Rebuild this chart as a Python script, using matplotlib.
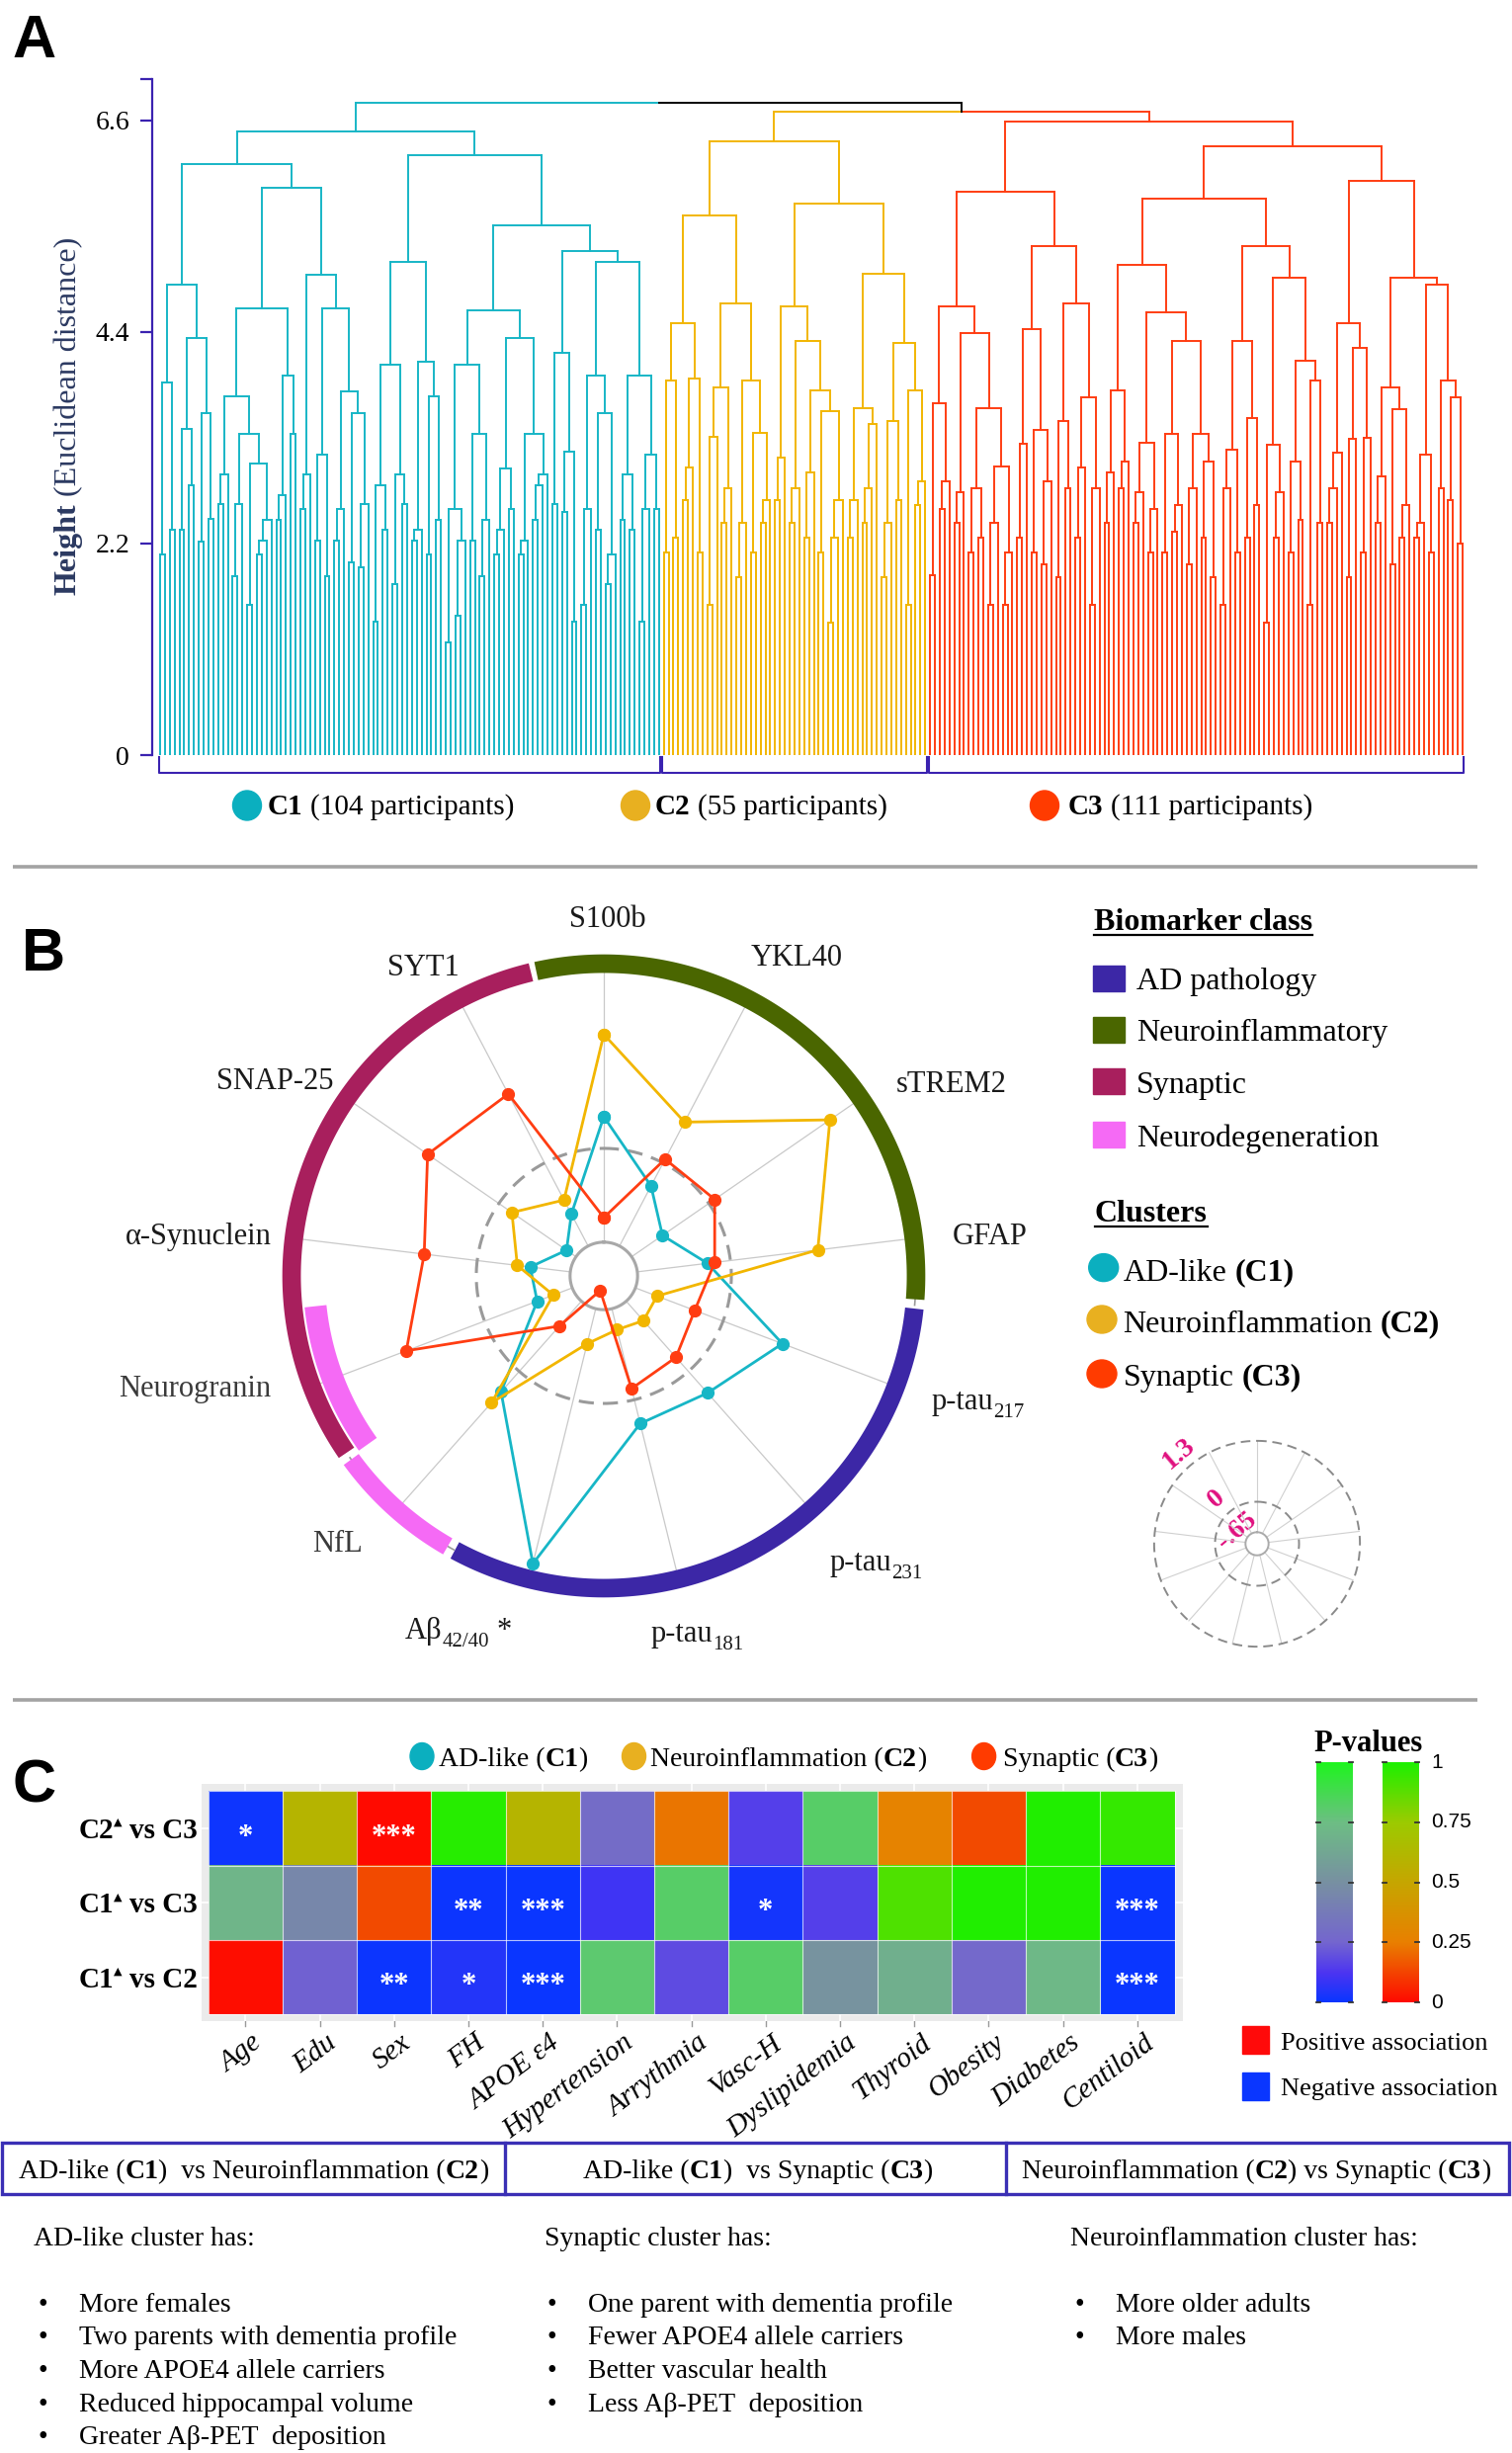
import math
import numpy as np
import matplotlib
matplotlib.use('Agg')
import matplotlib.pyplot as plt
from matplotlib.collections import LineCollection
from matplotlib.colors import LinearSegmentedColormap
from matplotlib.patches import Rectangle, Ellipse

# ======================= DATA =======================
# ---- Panel A: dendrogram. node = (height, left, right); list = chain of merge heights
C1_A1 = (4.89, (3.87, [2.09], [2.34]),
         (4.34, (3.39, [2.34], [2.81]), (3.56, [2.22], [2.46])))
C1_A2 = (5.90,
         (4.65, (3.73, [2.61, 2.92], (3.34, [1.86, 2.61], (3.03, [1.56], [2.09, 2.23, 2.45]))),
          (3.95, [2.45, 2.70], [3.34])),
         (4.99, [2.56, 2.92],
          (4.65, (3.12, [2.23], [1.86]), (3.78, [2.23, 2.56], (3.56, [2.00], [1.95, 2.61])))))
C1_B1 = (5.13, (4.06, (2.81, [1.39], [2.34]), (2.92, [1.78], [2.61])),
         (4.09, [2.23, 2.34], (3.73, [2.09], [2.45])))
C1_B2 = (5.51,
         (4.62, (4.06, (2.56, [1.17], [1.45, 2.23]), (3.34, [2.23], [1.86, 2.45])),
          (4.34, (2.98, [2.09, 2.34], [2.56]), (3.34, [2.09, 2.23], [2.45, 2.81, 2.92]))),
         (5.24, (4.18, [2.61], (3.16, [2.53], [1.39])),
          (5.13, (3.95, [1.56, 2.56], (3.56, [2.34], [1.78, 2.09])),
           (3.95, (2.92, [2.45], [2.34]), (3.12, [1.39, 2.56], [2.56])))))
C1_TREE = (6.49, (6.15, C1_A1, C1_A2), (6.24, C1_B1, C1_B2))

C2_A = (5.61, (4.49, (3.90, [2.11], [2.26]), (3.92, [2.65, 2.99], [2.11])),
        (4.70, (3.82, [1.56, 3.31], [2.42, 2.78]), (3.90, [1.85, 2.42], (3.35, [2.11], [2.42, 2.65]))))
C2_B = (5.73,
        (4.67, [2.65, 3.09], (4.31, [2.42, 2.78], (3.79, [2.26, 2.94], (3.58, [2.11], [1.38, 2.26, 2.65])))),
        (5.01, (3.61, [2.26, 2.65], [2.42, 2.78, 3.44]),
         (4.29, (3.47, [1.85, 2.42], [2.65]), (3.79, [1.56], [2.60, 2.85]))))
C2_TREE = (6.38, C2_A, C2_B)

C3_A = (5.86,
        (4.67, (3.66, [1.87], [2.56, 2.85]),
         (4.39, [2.42, 2.73], (3.61, (2.77, [2.11], [2.26]), (3.00, [1.56, 2.42], [1.56, 2.11])))),
        (5.29, (4.43, [2.26, 3.24], (3.38, [2.11], [1.98, 2.85])),
         (4.70, (3.47, [1.85], [2.78]), (3.72, [2.26, 2.99], [1.56, 2.78]))))
C3_B1 = (5.79,
         (5.10, (3.79, [2.42, 2.94], [2.78, 3.05]),
          (4.60, (3.25, [2.42, 2.73], [2.11, 2.56]),
           (4.31, (3.34, [2.11], [2.32, 2.60]), (3.34, [1.98, 2.78], (3.05, [2.26], [1.85]))))),
         (5.29, (4.31, (3.18, [1.56, 2.78], [2.11]), (3.50, [2.26], [2.60])),
          (4.96, (3.23, [1.38], [2.26, 2.73]), (4.10, (3.05, [2.11], [2.45]), (3.90, [1.56], [2.42])))))
C3_B2 = (5.97, (4.49, [2.42, 2.78, 3.15], (4.23, [1.85, 3.29], [2.11, 3.30])),
         (4.96, (3.82, [2.42, 2.90], (3.60, [1.98], [2.26, 2.60])),
          (4.89, (3.12, [2.26, 2.42], [2.11]), (3.90, [2.78], (3.72, [2.65], [2.20])))))
C3_TREE = (6.59, C3_A, (6.33, C3_B1, C3_B2))

C2C3_HEIGHT = 6.69
ROOT_HEIGHT = 6.78
CLUSTER_LABELS = ['C1', 'C2', 'C3']
CLUSTER_N = [104, 55, 111]
Y_TICKS = [0, 2.2, 4.4, 6.6]
Y_TICKLABELS = ['0', '2.2', '4.4', '6.6']

# ---- Panel B: radar
RADAR_AXES = ['S100b', 'YKL40', 'sTREM2', 'GFAP', 'p-tau217', 'p-tau231', 'p-tau181',
              'Aβ42/40', 'NfL', 'Neurogranin', 'α-Synuclein', 'SNAP-25', 'SYT1']
RADAR_C1 = [0.22, -0.18, -0.39, -0.16, 0.44, 0.20, 0.17, 1.17, 0.19, -0.39, -0.37, -0.57, -0.40]
RADAR_C2 = [0.79, 0.32, 1.02, 0.61, -0.49, -0.47, -0.50, -0.40, 0.29, -0.51, -0.28, -0.11, -0.29]
RADAR_C3 = [-0.48, 0.03, 0.05, -0.11, -0.21, -0.13, -0.08, -0.78, -0.42, 0.58, 0.37, 0.60, 0.54]
RADAR_SCALE = [-0.65, 0, 1.3]
RADAR_SCALE_LABELS = ['-.65', '0', '1.3']
CLASS_NAMES = ['AD pathology', 'Neuroinflammatory', 'Synaptic', 'Neurodegeneration']
CLUSTER_NAMES = ['AD-like', 'Neuroinflammation', 'Synaptic']

# ---- Panel C: heatmap
HM_COLS = ['Age', 'Edu', 'Sex', 'FH', 'APOE ε4', 'Hypertension', 'Arrythmia', 'Vasc-H',
           'Dyslipidemia', 'Thyroid', 'Obesity', 'Diabetes', 'Centiloid']
HM_ROWS = [('C2', 'C3'), ('C1', 'C3'), ('C1', 'C2')]
P_VALUES = [
    [0.01, 0.60, 0.0005, 0.98, 0.60, 0.29, 0.23, 0.15, 0.82, 0.27, 0.14, 0.99, 0.95],
    [0.70, 0.45, 0.14, 0.005, 0.0005, 0.10, 0.82, 0.02, 0.15, 0.90, 0.99, 0.99, 0.0002],
    [0.01, 0.24, 0.005, 0.05, 0.0005, 0.80, 0.18, 0.82, 0.52, 0.67, 0.27, 0.72, 0.0005],
]
DIRECTION = [
    [-1, 1, 1, 1, 1, -1, 1, -1, -1, 1, 1, 1, 1],
    [-1, -1, 1, -1, -1, -1, -1, -1, -1, 1, 1, 1, -1],
    [1, -1, -1, -1, -1, -1, -1, -1, -1, -1, -1, -1, -1],
]
STARS = [
    ['*', '', '***', '', '', '', '', '', '', '', '', '', ''],
    ['', '', '', '**', '***', '', '', '*', '', '', '', '', '***'],
    ['', '', '**', '*', '***', '', '', '', '', '', '', '', '***'],
]
CBAR_TICKS = [1, 0.75, 0.5, 0.25, 0]
CBAR_TICKLABELS = ['1', '0.75', '0.5', '0.25', '0']

# ---- Bottom text
BOX_TEXTS = [
    [('AD-like (', {}), ('C1', {'weight': 'bold'}), (')  vs Neuroinflammation (', {}), ('C2', {'weight': 'bold'}), (')', {})],
    [('AD-like (', {}), ('C1', {'weight': 'bold'}), (')  vs Synaptic (', {}), ('C3', {'weight': 'bold'}), (')', {})],
    [('Neuroinflammation (', {}), ('C2', {'weight': 'bold'}), (') vs Synaptic (', {}), ('C3', {'weight': 'bold'}), (')', {})],
]
SUBHEADS = ['AD-like cluster has:', 'Synaptic cluster has:', 'Neuroinflammation cluster has:']
BULLETS = [
    ['More females', 'Two parents with dementia profile', 'More APOE4 allele carriers',
     'Reduced hippocampal volume', 'Greater Aβ-PET  deposition'],
    ['One parent with dementia profile', 'Fewer APOE4 allele carriers', 'Better vascular health',
     'Less Aβ-PET  deposition'],
    ['More older adults', 'More males'],
]

# ======================= STYLE =======================
W, H, DPI = 1530, 2482, 100
PT = DPI / 72.0
SERIF = ['Liberation Serif', 'DejaVu Serif', 'DejaVu Sans']
SANS = ['Liberation Sans', 'DejaVu Sans']
plt.rcParams['font.family'] = SERIF
plt.rcParams['axes.unicode_minus'] = False

COL_C1, COL_C2, COL_C3 = '#17B6C6', '#F2B600', '#FF3D12'
LEG_C1, LEG_C2, LEG_C3 = '#0BAFBF', '#E8B020', '#FF3B00'
INDIGO = '#3A22B0'
CLASS_COLS = ['#3C27A6', '#4A6600', '#A81F5D', '#F56AF5']
NEG_CMAP = LinearSegmentedColormap.from_list('neg', [(0.0, '#0A36FF'), (0.12, '#4C34F2'), (0.25, '#7466CF'),
                                                     (0.5, '#7890A2'), (0.75, '#6DBE84'), (1.0, '#1EF51E')])
POS_CMAP = LinearSegmentedColormap.from_list('pos', [(0.0, '#FF0A00'), (0.25, '#E98000'), (0.5, '#C6A600'),
                                                     (0.75, '#9CCB00'), (1.0, '#1CF000')])

fig = plt.figure(figsize=(W / DPI, H / DPI), dpi=DPI)
ov = fig.add_axes([0, 0, 1, 1])
ov.set_xlim(0, W)
ov.set_ylim(H, 0)
ov.axis('off')
R = fig.canvas.get_renderer()


def px_axes(x0, y0, x1, y1, **kw):
    return fig.add_axes([x0 / W, 1 - y1 / H, (x1 - x0) / W, (y1 - y0) / H], **kw)


def text_w(s, fs, weight='normal', style='normal', family=SERIF):
    if not s:
        return 0.0
    t = ov.text(0, 0, s, fontsize=fs, weight=weight, style=style, family=family)
    w = t.get_window_extent(R).width
    t.remove()
    return w


def rich(x, y, parts, size=20, ha='left', color='black', rotation=0, zorder=6, family=SERIF):
    items = []
    for s, o in parts:
        fs = o.get('size', size)
        fam = o.get('family', family)
        wt = o.get('weight', 'normal')
        st = o.get('style', 'normal')
        core = s.strip(' ')
        lead = (len(s) - len(s.lstrip(' '))) * 0.25 * fs * PT
        trail = (len(s) - len(s.rstrip(' '))) * 0.25 * fs * PT
        w = text_w(core, fs, wt, st, fam)
        t = ov.text(0, 0, core, fontsize=fs, family=fam, weight=wt, style=st,
                    color=o.get('color', color), ha='left', va='baseline',
                    rotation=rotation, rotation_mode='anchor', zorder=zorder)
        items.append((t, lead, w, trail, o.get('dy', 0.0)))
    total = sum(a + b + c for _, a, b, c, _ in items)
    cur = {'left': 0.0, 'center': -total / 2, 'right': -total}[ha]
    ca, sa = math.cos(math.radians(rotation)), math.sin(math.radians(rotation))
    for t, a, w, b, dy in items:
        cur += a
        t.set_position((x + cur * ca + dy * sa, y - cur * sa + dy * ca))
        cur += w + b
    return total


# ======================= PANEL LETTERS & SEPARATORS =======================
for lab, x, y in [('A', 12, 58), ('B', 22, 982), ('C', 13, 1824)]:
    ov.text(x, y, lab, fontsize=44, family=SANS, weight='bold', ha='left', va='baseline')
for y in [877, 1720]:
    ov.plot([13, 1495], [y, y], color='#a3a3a3', lw=2.6, solid_capstyle='butt')

# ======================= PANEL A =======================
axd = px_axes(154, 80, 1488, 764)
axd.set_xlim(-1.63, 270.6)
axd.set_ylim(0, 7.03)
axd.patch.set_alpha(0)
for s in ['top', 'right', 'bottom']:
    axd.spines[s].set_visible(False)
axd.spines['left'].set_color(INDIGO)
axd.spines['left'].set_linewidth(1.6)
axd.set_xticks([])
axd.set_yticks(Y_TICKS + [7.03])
axd.set_yticklabels(Y_TICKLABELS + [''])
axd.tick_params(axis='y', length=8.5, width=1.6, color=INDIGO, labelsize=20, pad=8, labelcolor='black')
for lab in axd.get_yticklabels():
    lab.set_family(SERIF)

segs = {}


def add_seg(c, p0, p1):
    segs.setdefault(c, []).append([p0, p1])


def link(xl, hl, xr, hr, h, cl, cr):
    xm = (xl + xr) / 2
    add_seg(cl, (xl, hl), (xl, h))
    add_seg(cl, (xl, h), (xm, h))
    add_seg(cr, (xm, h), (xr, h))
    add_seg(cr, (xr, h), (xr, hr))


def build(node, start, c):
    if isinstance(node, list):
        x, h = float(start), 0.0
        for k, hk in enumerate(node):
            nx = start + k + 1
            link(x, h, nx, 0.0, hk, c, c)
            x, h = (x + nx) / 2, hk
        return x, h, start + len(node) + 1
    hh, L, Rn = node
    xl, hl, s = build(L, start, c)
    xr, hr, s = build(Rn, s, c)
    link(xl, hl, xr, hr, hh, c, c)
    return (xl + xr) / 2, hh, s


x1, h1, s1 = build(C1_TREE, 0, COL_C1)
x2, h2, s2 = build(C2_TREE, s1, COL_C2)
x3, h3, s3 = build(C3_TREE, s2, COL_C3)
link(x2, h2, x3, h3, C2C3_HEIGHT, COL_C2, COL_C3)
x23 = (x2 + x3) / 2
link(x1, h1, x23, C2C3_HEIGHT, ROOT_HEIGHT, COL_C1, 'black')
for c, sl in segs.items():
    axd.add_collection(LineCollection(sl, colors=c, linewidths=1.4, capstyle='projecting'))

starts = [0, CLUSTER_N[0], CLUSTER_N[0] + CLUSTER_N[1]]
for s, n in zip(starts, CLUSTER_N):
    xa, xb = s - 0.27, s + n - 1 + 0.27
    axd.plot([xa, xa, xb, xb], [-0.02, -0.19, -0.19, -0.02], color=INDIGO, lw=1.5, clip_on=False)

rich(77, 421, [('Height', {'weight': 'bold'}), (' (Euclidean distance)', {})], size=23,
     ha='center', rotation=90, color='#2B3961')

for (cx, tx), lab, n, col in zip([(250, 271), (643, 663), (1057, 1081)], CLUSTER_LABELS, CLUSTER_N,
                                 [LEG_C1, LEG_C2, LEG_C3]):
    ov.add_patch(Ellipse((cx, 815), 29, 30, color=col))
    rich(tx, 824, [(lab, {'weight': 'bold'}), (' (%d participants)' % n, {})], size=21)

# ======================= PANEL B =======================
CX, CY, RU, V0, RTOP = 611, 1291, 146.0, -0.884, 1.40
rad = (RTOP - V0) * RU
axr = px_axes(CX - rad, CY - rad, CX + rad, CY + rad, projection='polar')
axr.set_theta_zero_location('N')
axr.set_theta_direction(-1)
axr.set_ylim(V0, RTOP)
axr.axis('off')
ang = np.linspace(0, 2 * np.pi, len(RADAR_AXES), endpoint=False)
tt = np.linspace(0, 2 * np.pi, 400)
RING = 1.28
for a in ang:
    axr.plot([a, a], [RADAR_SCALE[0], RING], color='#c9c9c9', lw=0.9, zorder=1)
axr.plot(tt, np.full_like(tt, RING), color='#9a9a9a', lw=1.2, ls=(0, (6, 4)), zorder=1)
axr.plot(tt, np.full_like(tt, RADAR_SCALE[0]), color='#a8a8a8', lw=2.2, zorder=2)
axr.plot(tt, np.full_like(tt, RADAR_SCALE[1]), color='#9a9a9a', lw=2.2, ls=(0, (5, 3)), zorder=2)
arcs = [(96, 208.5, CLASS_COLS[0], RING, 13.5), (347.5, 454.3, CLASS_COLS[1], RING, 13.5),
        (235.5, 346.5, CLASS_COLS[2], RING, 13.5), (210, 234, CLASS_COLS[3], RING, 13.5),
        (234.5, 264, CLASS_COLS[3], 1.125, 16)]
for a0, a1, col, rr, lw in arcs:
    th = np.radians(np.linspace(a0, a1, 120))
    axr.plot(th, np.full_like(th, rr), color=col, lw=lw, solid_capstyle='butt', zorder=3)
aa = np.append(ang, ang[0])
for vals, col in [(RADAR_C1, COL_C1), (RADAR_C2, COL_C2), (RADAR_C3, COL_C3)]:
    v = np.append(vals, vals[0])
    axr.plot(aa, v, color=col, lw=2.0, marker='o', ms=8.5, zorder=5)

SUB = {'size': 15, 'dy': 8}
radar_lab = [
    ([('S100b', {})], 615, 938, 'center'),
    ([('YKL40', {})], 806, 977, 'center'),
    ([('sTREM2', {})], 963, 1105, 'center'),
    ([('GFAP', {})], 1002, 1259, 'center'),
    ([('p-tau', {}), ('217', SUB)], 943, 1426, 'left'),
    ([('p-tau', {}), ('231', SUB)], 840, 1589, 'left'),
    ([('p-tau', {}), ('181', SUB)], 659, 1661, 'left'),
    ([('Aβ', {}), ('42/40', SUB), (' *', {})], 410, 1658, 'left'),
    ([('NfL', {'color': '#3a3a3a'})], 342, 1570, 'center'),
    ([('Neurogranin', {'color': '#3a3a3a'})], 197, 1413, 'center'),
    ([('α-Synuclein', {})], 201, 1259, 'center'),
    ([('SNAP-25', {})], 278, 1102, 'center'),
    ([('SYT1', {})], 428, 987, 'center'),
]
for parts, x, y, ha in radar_lab:
    rich(x, y, parts, size=22, ha=ha, color='#1a1a1a')

# legend
w = rich(1107, 941, [('Biomarker class', {'weight': 'bold'})], size=23)
ov.plot([1107, 1107 + w], [946, 946], color='black', lw=1.6)
for name, col, top, base in zip(CLASS_NAMES, CLASS_COLS, [976.7, 1028.8, 1080.5, 1135], [1001, 1053, 1106, 1160]):
    ov.add_patch(Rectangle((1106, top), 32, 26, color=col))
    rich(1150, base, [(name, {})], size=23)
w = rich(1108, 1236, [('Clusters', {'weight': 'bold'})], size=23)
ov.plot([1108, 1108 + w], [1241, 1241], color='black', lw=1.6)
for name, lab, col, (cx, cy), base in zip(CLUSTER_NAMES, CLUSTER_LABELS, [LEG_C1, LEG_C2, LEG_C3],
                                          [(1116.7, 1282.6), (1115, 1335), (1115, 1390)],
                                          [1295.6, 1347.7, 1401.7]):
    ov.add_patch(Ellipse((cx, cy), 30, 28, color=col))
    rich(1136.5, base, [(name + ' ', {}), ('(' + lab + ')', {'weight': 'bold'})], size=23)

# small scale radar
SCX, SCY, SRU, SV0, STOP = 1272, 1562, 47.4, -0.897, 1.36
srad = (STOP - SV0) * SRU
axs = px_axes(SCX - srad, SCY - srad, SCX + srad, SCY + srad, projection='polar')
axs.set_theta_zero_location('N')
axs.set_theta_direction(-1)
axs.set_ylim(SV0, STOP)
axs.axis('off')
for a in ang:
    axs.plot([a, a], [RADAR_SCALE[0], RADAR_SCALE[2]], color='#d0d0d0', lw=0.8)
axs.plot(tt, np.full_like(tt, RADAR_SCALE[0]), color='#aaaaaa', lw=1.4)
axs.plot(tt, np.full_like(tt, RADAR_SCALE[1]), color='#8a8a8a', lw=1.4, ls=(0, (5, 3)))
axs.plot(tt, np.full_like(tt, RADAR_SCALE[2]), color='#8a8a8a', lw=1.4, ls=(0, (5, 3)))
for lab, (x, y) in zip(RADAR_SCALE_LABELS, [(1252, 1549), (1231, 1517), (1193, 1471)]):
    ov.text(x, y, lab, color='#E0107F', fontsize=20, weight='bold', family=SERIF, rotation=40,
            ha='center', va='center')

# ======================= PANEL C =======================
for (cx, tx), name, lab, col in zip([(427, 444), (641.5, 658.5), (995.6, 1014.6)], CLUSTER_NAMES,
                                    CLUSTER_LABELS, [LEG_C1, LEG_C2, LEG_C3]):
    ov.add_patch(Ellipse((cx, 1777), 24, 27, color=col))
    rich(tx, 1787, [(name + ' (', {}), (lab, {'weight': 'bold'}), (')', {})], size=20)

axh = px_axes(204.3, 1805, 1197, 2045)
axh.set_facecolor('#EBEBEB')
for s in axh.spines.values():
    s.set_visible(False)
axh.set_xticks([])
axh.set_yticks([])
nr, nc = len(HM_ROWS), len(HM_COLS)
rgb = np.zeros((nr, nc, 3))
for r in range(nr):
    for c in range(nc):
        cmap = POS_CMAP if DIRECTION[r][c] > 0 else NEG_CMAP
        rgb[r, c] = cmap(P_VALUES[r][c])[:3]
axh.vlines(np.arange(nc), -0.7, 2.7, color='white', lw=1.2, zorder=1)
axh.hlines(np.arange(nr), -0.7, 12.7, color='white', lw=1.2, zorder=1)
axh.imshow(rgb, extent=(-0.5, nc - 0.5, nr - 0.5, -0.5), interpolation='nearest', aspect='auto', zorder=2)
axh.vlines(np.arange(nc + 1) - 0.5, -0.5, nr - 0.5, color='white', lw=0.8, alpha=0.7, zorder=3)
axh.hlines(np.arange(nr + 1) - 0.5, -0.5, nc - 0.5, color='white', lw=0.8, alpha=0.7, zorder=3)
axh.set_xlim(-0.586, nc - 0.5 + 0.113)
axh.set_ylim(nr - 0.5 + 0.089, -0.5 - 0.097)
for r in range(nr):
    for c in range(nc):
        if STARS[r][c]:
            axh.text(c, r + 0.22, STARS[r][c], color='white', fontsize=22, weight='bold',
                     family=SERIF, ha='center', va='baseline', zorder=4)

for r, (a, b) in enumerate(HM_ROWS):
    yc = 1850 + 75.3 * r
    rich(200, yc + 10, [(a, {'weight': 'bold'}),
                        ('▲', {'size': 8, 'dy': -13, 'family': ['DejaVu Sans']}),
                        (' vs ' + b, {'weight': 'bold'})], size=21, ha='right')
for k, lab in enumerate(HM_COLS):
    xc = 210.8 + 75.2 * (k + 0.5)
    ov.plot([xc, xc], [2045, 2050], color='#9a9a9a', lw=1)
    ov.text(xc + 6, 2054, lab, rotation=37, ha='right', va='top', rotation_mode='anchor',
            style='italic', fontsize=21, family=SERIF)

# colorbars
rich(1385, 1772, [('P-values', {'weight': 'bold'})], size=22, ha='center')
grad = np.linspace(1, 0, 256)[:, None]
for x0, cmap in [(1332, NEG_CMAP), (1399, POS_CMAP)]:
    axc = px_axes(x0, 1783.3, x0 + 37, 2026)
    axc.imshow(grad, cmap=cmap, vmin=0, vmax=1, aspect='auto', extent=(0, 1, 0, 1))
    axc.set_xlim(0, 1)
    axc.set_ylim(0, 1)
    axc.axis('off')
    for v in CBAR_TICKS:
        axc.plot([0, 0.12], [v, v], color='#333333', lw=1.3, clip_on=False)
        axc.plot([0.88, 1], [v, v], color='#333333', lw=1.3, clip_on=False)
for v, lab in zip(CBAR_TICKS, CBAR_TICKLABELS):
    ov.text(1448, 1783.3 + (1 - v) * 242.7, lab, family=SANS, fontsize=15, va='center', ha='left')

ov.add_patch(Rectangle((1256.6, 2050), 27.4, 28, color='#FF0A0A'))
ov.add_patch(Rectangle((1256.6, 2096.7), 27.4, 28, color='#0A36FF'))
rich(1295.6, 2074, [('Positive association', {})], size=19)
rich(1295.6, 2120, [('Negative association', {})], size=19)

# ======================= BOTTOM TEXT =======================
BOX_C = '#3A2FB5'
ov.add_patch(Rectangle((2, 2168), 1525, 52, fill=False, ec=BOX_C, lw=2.4))
for x in [511, 1018.5]:
    ov.plot([x, x], [2168, 2220], color=BOX_C, lw=2.4)
for parts, cx in zip(BOX_TEXTS, [256.6, 767, 1271]):
    rich(cx, 2204, parts, size=20, ha='center')
for head, items, (hx, bx, tx) in zip(SUBHEADS, BULLETS, [(34, 39, 80), (551, 554, 595), (1083, 1088, 1129)]):
    rich(hx, 2272, [(head, {})], size=20)
    for i, it in enumerate(items):
        yb = 2339 + 33.5 * i
        ov.text(bx, yb, '•', fontsize=20, family=SERIF, ha='left', va='baseline')
        rich(tx, yb, [(it, {})], size=20)

fig.savefig('out.png', dpi=DPI)
